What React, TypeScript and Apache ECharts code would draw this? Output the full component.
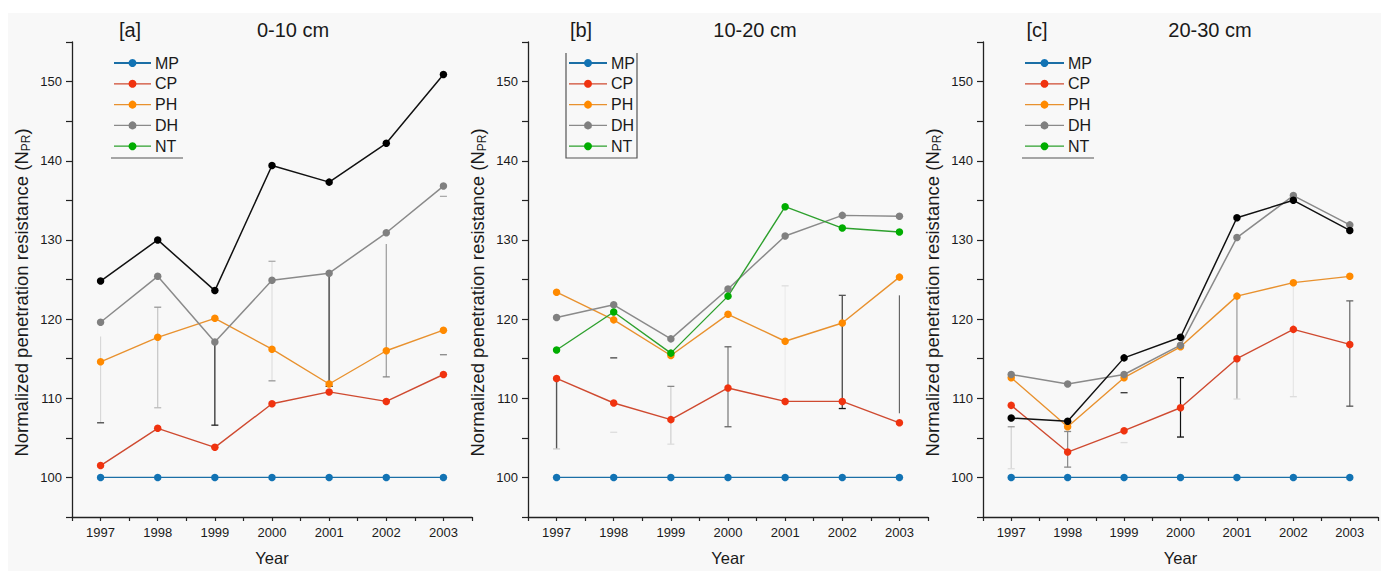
import React, { useEffect, useRef } from "react";
import * as echarts from "echarts";

// Years of observation (x positions)
const years = [1997, 1998, 1999, 2000, 2001, 2002, 2003];

// Panel [a] 0-10 cm
const mpA = [100, 100, 100, 100, 100, 100, 100];
const cpA = [101.5, 106.2, 103.8, 109.3, 110.8, 109.6, 113.0];
const phA = [114.6, 117.7, 120.1, 116.2, 111.8, 116.0, 118.6];
const dhA = [119.6, 125.4, 117.1, 124.9, 125.8, 130.9, 136.8];
const ntA = [124.8, 130.0, 123.6, 139.4, 137.3, 142.2, 150.9];
const errA = [
  [1997, 106.9, 117.8],
  [1998, 108.8, 121.5],
  [1999, 106.6, 117.1],
  [2000, 112.2, 127.3],
  [2001, 111.5, 125.8],
  [2002, 112.7, 129.5],
  [2003, 115.5, 135.5],
];

// Panel [b] 10-20 cm
const mpB = [100, 100, 100, 100, 100, 100, 100];
const cpB = [112.5, 109.4, 107.3, 111.3, 109.6, 109.6, 106.9];
const phB = [123.4, 119.9, 115.4, 120.6, 117.2, 119.5, 125.3];
const dhB = [120.2, 121.8, 117.5, 123.8, 130.5, 133.1, 133.0];
const ntB = [116.1, 120.9, 115.7, 122.9, 134.2, 131.5, 131.0];
const errB = [
  [1997, 103.6, 112.5],
  [1998, 105.7, 115.1],
  [1999, 104.2, 111.5],
  [2000, 106.4, 116.5],
  [2001, 109.6, 124.2],
  [2002, 108.7, 123.0],
  [2003, 108.1, 123.0],
];

// Panel [c] 20-30 cm
const mpC = [100, 100, 100, 100, 100, 100, 100];
const cpC = [109.1, 103.2, 105.9, 108.8, 115.0, 118.7, 116.8];
const phC = [112.6, 106.4, 112.6, 116.5, 122.9, 124.6, 125.4];
const dhC = [113.0, 111.8, 113.0, 116.7, 130.3, 135.6, 131.9];
const ntC = [107.5, 107.1, 115.1, 117.7, 132.8, 135.0, 131.2];
const errC = [
  [1997, 101.1, 106.4],
  [1998, 101.3, 105.8],
  [1999, 104.4, 110.7],
  [2000, 105.1, 112.6],
  [2001, 109.9, 122.9],
  [2002, 110.2, 124.6],
  [2003, 109.0, 122.3],
];

const panelTags = ["[a]", "[b]", "[c]"];
const panelDepths = ["0-10 cm", "10-20 cm", "20-30 cm"];
const legendNames = ["MP", "CP", "PH", "DH", "NT"];

// ---- styling ----
const FONT = "'Liberation Sans', Arial, Helvetica, sans-serif";
const INK = "#1a1a1a";

type SeriesLook = { marker: string; line: string; width: number };
const LOOK: Record<string, SeriesLook> = {
  MP: { marker: "#1273b4", line: "#1b6fa6", width: 1.4 },
  CP: { marker: "#f0330f", line: "#cf4a30", width: 1.4 },
  PH: { marker: "#ff8a00", line: "#e8912e", width: 1.4 },
  DH: { marker: "#808080", line: "#8a8a8a", width: 1.5 },
  NT: { marker: "#00ad00", line: "#2ea02e", width: 1.4 },
  NTk: { marker: "#000000", line: "#111111", width: 1.5 },
};

type BarLook = { line: string | null; top: string | null; bottom: string | null; w?: number };
const barLookA: BarLook[] = [
  { line: "#d8d8d8", top: null, bottom: "#444" },
  { line: "#c4c4c4", top: "#999", bottom: "#bbb" },
  { line: "#222", top: null, bottom: "#222" },
  { line: "#e0e0e0", top: "#aaa", bottom: "#999" },
  { line: "#666", top: null, bottom: "#111", w: 1.8 },
  { line: "#9a9a9a", top: null, bottom: "#888" },
  { line: null, top: "#aaa", bottom: "#888" },
];
const barLookB: BarLook[] = [
  { line: "#555", top: null, bottom: "#ccc", w: 1.4 },
  { line: null, top: "#444", bottom: "#ddd" },
  { line: "#d0d0d0", top: "#888", bottom: "#ddd" },
  { line: "#777", top: "#666", bottom: "#666" },
  { line: "#ececec", top: "#ddd", bottom: null },
  { line: "#555", top: "#555", bottom: "#111", w: 1.4 },
  { line: "#666", top: null, bottom: null },
];
const barLookC: BarLook[] = [
  { line: "#d0d0d0", top: "#999", bottom: "#ddd" },
  { line: "#888", top: "#888", bottom: "#888" },
  { line: null, top: "#333", bottom: "#ddd" },
  { line: "#111", top: "#111", bottom: "#111" },
  { line: "#999", top: null, bottom: "#ddd" },
  { line: "#e6e6e6", top: null, bottom: "#ddd" },
  { line: "#666", top: "#666", bottom: "#555" },
];

const GRIDS = [
  { left: 72, top: 42, width: 400, height: 482 },
  { left: 528, top: 42, width: 400, height: 482 },
  { left: 983, top: 42, width: 400, height: 482 },
];

function lineSeries(name: string, values: number[], look: SeriesLook, g: number) {
  return {
    type: "line",
    name,
    xAxisIndex: g,
    yAxisIndex: g,
    data: years.map((y, i) => [y, values[i]]),
    symbol: "circle",
    symbolSize: 7.5,
    showSymbol: true,
    itemStyle: { color: look.marker },
    lineStyle: { color: look.line, width: look.width },
    z: 3,
  };
}

function errorSeries(bars: number[][], looks: BarLook[], g: number) {
  return {
    type: "custom",
    name: "err" + g,
    xAxisIndex: g,
    yAxisIndex: g,
    data: bars,
    encode: { x: 0, y: [1, 2] },
    silent: true,
    z: 2,
    renderItem: (params: any, api: any) => {
      const look = looks[params.dataIndex];
      const x = api.value(0);
      const lo = api.coord([x, api.value(1)]);
      const hi = api.coord([x, api.value(2)]);
      const cap = 3.5;
      const children: any[] = [];
      if (look.line) {
        children.push({
          type: "line",
          shape: { x1: lo[0], y1: lo[1], x2: hi[0], y2: hi[1] },
          style: { stroke: look.line, lineWidth: look.w ?? 1.2 },
        });
      }
      if (look.top) {
        children.push({
          type: "line",
          shape: { x1: hi[0] - cap, y1: hi[1], x2: hi[0] + cap, y2: hi[1] },
          style: { stroke: look.top, lineWidth: 1.3 },
        });
      }
      if (look.bottom) {
        children.push({
          type: "line",
          shape: { x1: lo[0] - cap, y1: lo[1], x2: lo[0] + cap, y2: lo[1] },
          style: { stroke: look.bottom, lineWidth: 1.3 },
        });
      }
      return { type: "group", children };
    },
  };
}

function legendFor(left: number, itemWidth: number) {
  return {
    orient: "vertical",
    left,
    top: 55,
    padding: 0,
    itemWidth,
    itemHeight: 10,
    itemGap: 4.8,
    selectedMode: false,
    textStyle: { fontFamily: FONT, fontSize: 16, color: INK, lineHeight: 16, padding: [0, 0, 0, -1] },
    data: legendNames.map((n) =>
      n === "NT"
        ? { name: n, itemStyle: { color: LOOK.NT.marker }, lineStyle: { color: LOOK.NT.line, width: 1.3 } }
        : { name: n, itemStyle: { color: LOOK[n].marker }, lineStyle: { color: LOOK[n].line, width: n === "MP" ? 2 : 1.3 } }
    ),
  };
}

export default function App() {
  const ref = useRef<HTMLDivElement>(null);

  useEffect(() => {
    if (!ref.current) return;
    const chart = echarts.init(ref.current, null, { renderer: "svg" });

    const panels = [
      { mp: mpA, cp: cpA, ph: phA, dh: dhA, nt: ntA, ntLook: LOOK.NTk, err: errA, looks: barLookA },
      { mp: mpB, cp: cpB, ph: phB, dh: dhB, nt: ntB, ntLook: LOOK.NT, err: errB, looks: barLookB },
      { mp: mpC, cp: cpC, ph: phC, dh: dhC, nt: ntC, ntLook: LOOK.NTk, err: errC, looks: barLookC },
    ];

    const series: any[] = [];
    panels.forEach((p, g) => {
      series.push(errorSeries(p.err, p.looks, g));
      series.push(lineSeries("MP", p.mp, LOOK.MP, g));
      series.push(lineSeries("CP", p.cp, LOOK.CP, g));
      series.push(lineSeries("PH", p.ph, LOOK.PH, g));
      series.push(lineSeries("DH", p.dh, LOOK.DH, g));
      series.push(lineSeries("NT", p.nt, p.ntLook, g));
    });

    const xAxis = GRIDS.map((_, g) => ({
      type: "value",
      gridIndex: g,
      min: 1996.5,
      max: 2003.5,
      interval: 0.5,
      name: "Year",
      nameLocation: "middle",
      nameGap: 32,
      nameTextStyle: { fontFamily: FONT, fontSize: 16.5, color: INK },
      axisLine: { show: true, lineStyle: { color: "#222", width: 1.3 } },
      axisTick: { show: true, length: 4, lineStyle: { color: "#222", width: 1.2 } },
      axisLabel: {
        margin: 9,
        fontFamily: FONT,
        fontSize: 13,
        color: INK,
        showMinLabel: true,
        showMaxLabel: true,
        formatter: (v: number) => (Number.isInteger(v) ? String(v) : ""),
      },
      splitLine: { show: false },
    }));

    const yAxis = GRIDS.map((_, g) => ({
      type: "value",
      gridIndex: g,
      min: 95,
      max: 155,
      interval: 5,
      name: "Normalized penetration resistance (N{sub|PR})",
      nameLocation: "middle",
      nameGap: 40,
      nameRotate: 90,
      nameTextStyle: {
        fontFamily: FONT,
        fontSize: 18.5,
        color: INK,
        lineHeight: 22,
        padding: [0, 26, 0, 0],
        rich: { sub: { fontFamily: FONT, fontSize: 12, color: INK, verticalAlign: "bottom", lineHeight: 22 } },
      },
      axisLine: { show: true, lineStyle: { color: "#222", width: 1.3 } },
      axisTick: { show: true, length: 6, lineStyle: { color: "#222", width: 1.2 } },
      axisLabel: {
        margin: 10,
        fontFamily: FONT,
        fontSize: 13,
        color: INK,
        formatter: (v: number) => (v % 10 === 0 ? String(v) : ""),
      },
      splitLine: { show: false },
    }));

    const titleCenters = [
      [130, 293],
      [581, 755],
      [1037, 1210],
    ];
    const graphic: any[] = [
      {
        type: "rect",
        z: -10,
        silent: true,
        shape: { x: 8, y: 13, width: 1373, height: 558 },
        style: { fill: "#f8f8f8" },
      },
    ];
    titleCenters.forEach((c, g) => {
      graphic.push({
        type: "text",
        x: c[0],
        y: 30,
        style: { text: panelTags[g], fontFamily: FONT, fontSize: 20, fill: INK, align: "center", verticalAlign: "middle" },
      });
      graphic.push({
        type: "text",
        x: c[1],
        y: 30,
        style: { text: panelDepths[g], fontFamily: FONT, fontSize: 20, fill: INK, align: "center", verticalAlign: "middle" },
      });
    });
    // legend frames
    graphic.push({
      type: "line",
      shape: { x1: 111, y1: 158, x2: 183, y2: 158 },
      style: { stroke: "#8a8a8a", lineWidth: 1.5 },
    });
    graphic.push({
      type: "polyline",
      shape: { points: [[566, 53], [566, 158], [637, 158], [637, 53]] },
      style: { stroke: "#555", lineWidth: 1.2, fill: null },
    });
    graphic.push({
      type: "line",
      shape: { x1: 1022, y1: 158, x2: 1094, y2: 158 },
      style: { stroke: "#8a8a8a", lineWidth: 1.5 },
    });

    chart.setOption({
      animation: false,
      backgroundColor: "#ffffff",
      textStyle: { fontFamily: FONT },
      grid: GRIDS,
      xAxis,
      yAxis,
      legend: [legendFor(113, 37), legendFor(568, 38), legendFor(1024, 39)],
      graphic,
      series,
    });

    return () => chart.dispose();
  }, []);

  return (
    <div
      ref={ref}
      style={{ position: "fixed", left: 0, top: 0, width: 1381, height: 571, background: "#ffffff" }}
    />
  );
}
